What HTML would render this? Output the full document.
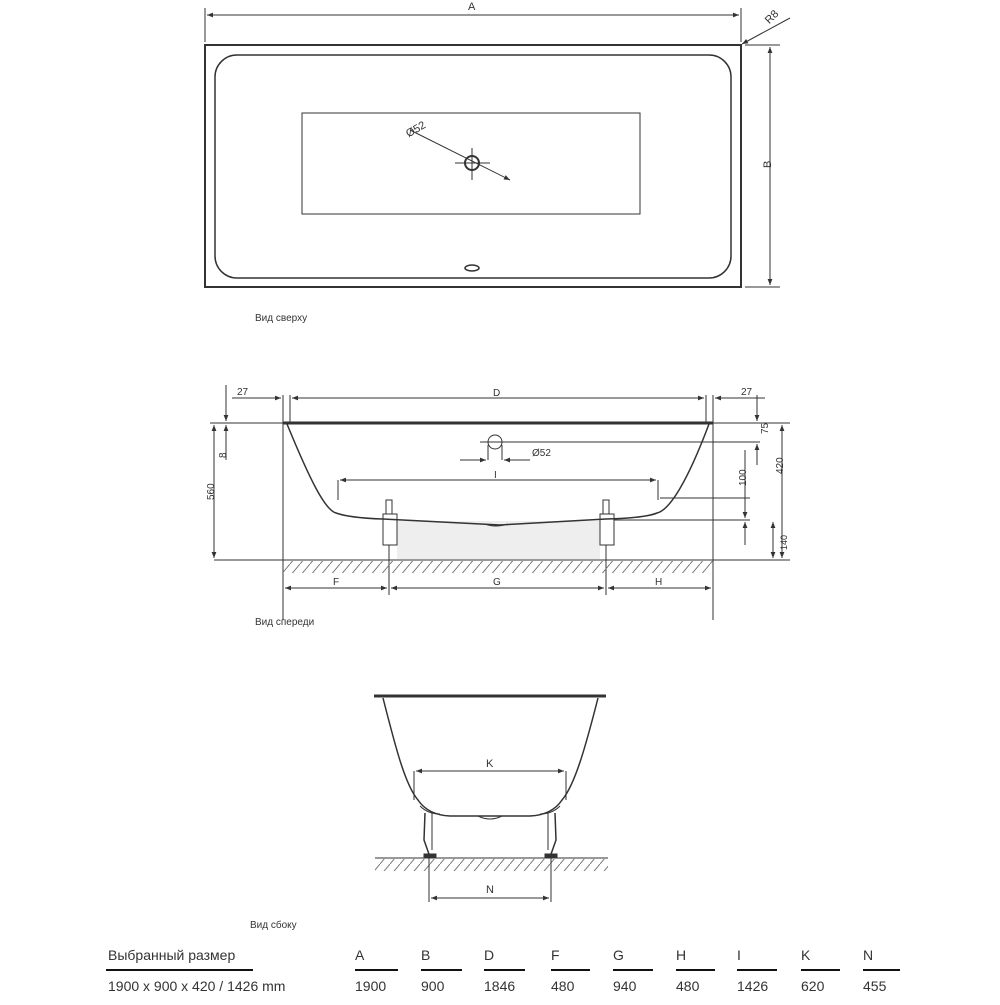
<!DOCTYPE html>
<html><head><meta charset="utf-8"><style>
body{margin:0;background:#fff;width:1000px;height:1000px;overflow:hidden}
svg text{font-family:"Liberation Sans",sans-serif;fill:#333}
</style></head><body>
<svg width="1000" height="1000" viewBox="0 0 1000 1000" xmlns="http://www.w3.org/2000/svg">
<defs>
<marker id="a" viewBox="0 0 10 10" refX="10" refY="5" markerWidth="8" markerHeight="6" orient="auto-start-reverse"><path d="M0,1 L10,5 L0,9 z" fill="#333"/></marker>
<pattern id="h" width="10" height="12" patternUnits="userSpaceOnUse"><path d="M0,12 L10,0" stroke="#777" stroke-width="1"/></pattern>
</defs>
<g stroke="#333" fill="none" stroke-width="1">
<!-- TOP VIEW -->
<rect x="205" y="45" width="536" height="242" stroke-width="2"/>
<rect x="215" y="55" width="516" height="223" rx="22" stroke-width="1.5"/>
<rect x="302" y="113" width="338" height="101"/>
<circle cx="472" cy="163" r="7" stroke-width="2"/>
<line x1="410" y1="130" x2="510" y2="180" marker-end="url(#a)"/>
<line x1="455" y1="163" x2="490" y2="163"/><line x1="472" y1="148" x2="472" y2="180"/>
<ellipse cx="472" cy="268" rx="7" ry="3" stroke-width="1.5"/>
<line x1="205" y1="8" x2="205" y2="42"/><line x1="741" y1="8" x2="741" y2="42"/>
<line x1="207" y1="15" x2="739" y2="15" marker-start="url(#a)" marker-end="url(#a)"/>
<line x1="745" y1="45" x2="780" y2="45"/><line x1="745" y1="287" x2="780" y2="287"/>
<line x1="770" y1="47" x2="770" y2="285" marker-start="url(#a)" marker-end="url(#a)"/>
<line x1="790" y1="18" x2="742" y2="44" marker-end="url(#a)"/>
<!-- FRONT VIEW -->
<line x1="283" y1="423" x2="713" y2="423" stroke-width="3"/>
<line x1="283" y1="395" x2="283" y2="620"/><line x1="290" y1="395" x2="290" y2="423"/>
<line x1="713" y1="395" x2="713" y2="620"/><line x1="706" y1="395" x2="706" y2="423"/>
<line x1="292" y1="398" x2="704" y2="398" marker-start="url(#a)" marker-end="url(#a)"/>
<line x1="232" y1="398" x2="281" y2="398" marker-end="url(#a)"/>
<line x1="765" y1="398" x2="715" y2="398" marker-end="url(#a)"/>
<line x1="210" y1="423" x2="790" y2="423"/>
<rect x="397" y="521" width="203" height="38" fill="#eee" stroke="none"/>
<path d="M287,424 C310,480 325,510 336,513 Q350,518 383,519 L500,525 L606,519 Q645,518 657,513 C670,510 688,480 709,424" stroke-width="1.5"/>
<path d="M485,524 Q495,528 508,524"/>
<rect x="383" y="514" width="14" height="31"/><rect x="600" y="514" width="14" height="31"/>
<rect x="386" y="500" width="6" height="14"/><rect x="603" y="500" width="6" height="14"/>
<line x1="389" y1="545" x2="389" y2="595"/><line x1="606" y1="545" x2="606" y2="595"/>
<line x1="214" y1="560" x2="790" y2="560"/>
<rect x="283" y="561" width="430" height="12" fill="url(#h)" stroke="none"/>
<line x1="285" y1="588" x2="387" y2="588" marker-start="url(#a)" marker-end="url(#a)"/>
<line x1="391" y1="588" x2="604" y2="588" marker-start="url(#a)" marker-end="url(#a)"/>
<line x1="608" y1="588" x2="711" y2="588" marker-start="url(#a)" marker-end="url(#a)"/>
<line x1="214" y1="425" x2="214" y2="558" marker-start="url(#a)" marker-end="url(#a)"/>
<line x1="226" y1="385" x2="226" y2="421" marker-end="url(#a)"/><line x1="226" y1="460" x2="226" y2="425" marker-end="url(#a)"/>
<circle cx="495" cy="442" r="7"/>
<line x1="480" y1="442" x2="760" y2="442"/>
<line x1="488" y1="445" x2="488" y2="460"/><line x1="502" y1="445" x2="502" y2="460"/>
<line x1="460" y1="460" x2="486" y2="460" marker-end="url(#a)"/><line x1="530" y1="460" x2="504" y2="460" marker-end="url(#a)"/>
<line x1="338" y1="480" x2="338" y2="500"/><line x1="658" y1="480" x2="658" y2="500"/>
<line x1="340" y1="480" x2="656" y2="480" marker-start="url(#a)" marker-end="url(#a)"/>
<line x1="660" y1="498" x2="750" y2="498"/><line x1="614" y1="520" x2="750" y2="520"/>
<line x1="757" y1="395" x2="757" y2="421" marker-end="url(#a)"/><line x1="757" y1="465" x2="757" y2="444" marker-end="url(#a)"/>
<line x1="745" y1="450" x2="745" y2="518" marker-end="url(#a)"/>
<line x1="745" y1="545" x2="745" y2="522" marker-end="url(#a)"/>
<line x1="782" y1="425" x2="782" y2="558" marker-start="url(#a)" marker-end="url(#a)"/>
<line x1="773" y1="522" x2="773" y2="558" marker-start="url(#a)" marker-end="url(#a)"/>
<!-- SIDE VIEW -->
<line x1="374" y1="696" x2="606" y2="696" stroke-width="3"/>
<path d="M383,698 C395,745 405,785 418,800 Q428,815 450,816 L530,816 Q552,815 562,800 C575,785 586,745 598,698" stroke-width="1.5"/>
<path d="M478,816 Q490,822 502,816"/>
<path d="M420,806 Q428,814 440,814 M560,806 Q552,814 540,814"/>
<line x1="414" y1="771" x2="414" y2="800"/><line x1="566" y1="771" x2="566" y2="800"/>
<line x1="416" y1="771" x2="564" y2="771" marker-start="url(#a)" marker-end="url(#a)"/>
<path d="M425,813 L424,840 L430,857" stroke-width="1.5"/><path d="M432,813 L432,850"/>
<path d="M555,813 L556,840 L550,857" stroke-width="1.5"/><path d="M548,813 L548,850"/>
<rect x="424" y="854" width="12" height="3" fill="#333"/><rect x="545" y="854" width="12" height="3" fill="#333"/>
<line x1="375" y1="858" x2="608" y2="858"/>
<rect x="375" y="859" width="233" height="12" fill="url(#h)" stroke="none"/>
<line x1="429" y1="857" x2="429" y2="902"/><line x1="551" y1="857" x2="551" y2="902"/>
<line x1="431" y1="898" x2="549" y2="898" marker-start="url(#a)" marker-end="url(#a)"/>
<!-- table lines -->
<g stroke="#111" stroke-width="2">
<line x1="106" y1="970" x2="253" y2="970"/><line x1="355" y1="970" x2="398" y2="970"/>
<line x1="421" y1="970" x2="462" y2="970"/><line x1="484" y1="970" x2="525" y2="970"/>
<line x1="551" y1="970" x2="590" y2="970"/><line x1="613" y1="970" x2="653" y2="970"/>
<line x1="676" y1="970" x2="715" y2="970"/><line x1="737" y1="970" x2="777" y2="970"/>
<line x1="801" y1="970" x2="840" y2="970"/><line x1="863" y1="970" x2="900" y2="970"/>
</g>
</g>
<g font-size="11">
<text x="468" y="10">A</text>
<text x="765" y="22" transform="rotate(-45 770 18)">R8</text>
<text x="767" y="172" transform="rotate(-90 767 168)">B</text>
<text x="407" y="132" transform="rotate(-30 418 132)">Ø52</text>
<text x="255" y="321" font-size="10">Вид сверху</text>
<text x="237" y="395" font-size="10">27</text><text x="741" y="395" font-size="10">27</text>
<text x="493" y="396" font-size="10">D</text>
<text x="532" y="456" font-size="10">Ø52</text>
<text x="494" y="478" font-size="10">I</text>
<text x="210" y="504" font-size="10" transform="rotate(-90 210 500)">560</text>
<text x="222" y="462" font-size="10" transform="rotate(-90 222 458)">8</text>
<text x="764" y="438" font-size="10" transform="rotate(-90 764 434)">75</text>
<text x="742" y="490" font-size="10" transform="rotate(-90 742 486)">100</text>
<text x="779" y="478" font-size="10" transform="rotate(-90 779 474)">420</text>
<text x="779" y="558" font-size="9" transform="rotate(-90 779 550)">140</text>
<text x="333" y="585" font-size="10">F</text>
<text x="493" y="585" font-size="10">G</text>
<text x="655" y="585" font-size="10">H</text>
<text x="255" y="625" font-size="10">Вид спереди</text>
<text x="486" y="767" font-size="11">K</text>
<text x="486" y="893" font-size="11">N</text>
<text x="250" y="928" font-size="10">Вид сбоку</text>
</g>
<g font-size="14" fill="#222">
<text x="108" y="960">Выбранный размер</text>
<text x="355" y="960">A</text><text x="421" y="960">B</text><text x="484" y="960">D</text>
<text x="551" y="960">F</text><text x="613" y="960">G</text><text x="676" y="960">H</text>
<text x="737" y="960">I</text><text x="801" y="960">K</text><text x="863" y="960">N</text>
<text x="108" y="991">1900 x 900 x 420 / 1426 mm</text>
<text x="355" y="991">1900</text><text x="421" y="991">900</text><text x="484" y="991">1846</text>
<text x="551" y="991">480</text><text x="613" y="991">940</text><text x="676" y="991">480</text>
<text x="737" y="991">1426</text><text x="801" y="991">620</text><text x="863" y="991">455</text>
</g>
</svg>
</body></html>
